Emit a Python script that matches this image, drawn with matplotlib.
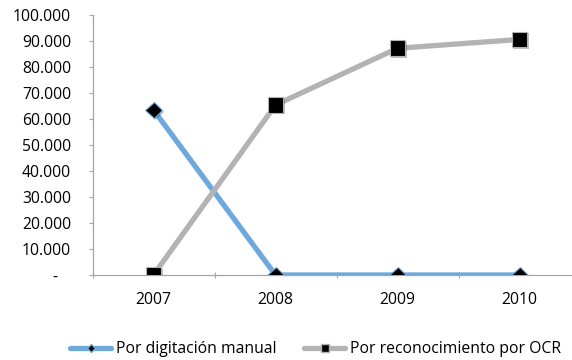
import matplotlib.pyplot as plt
import matplotlib.patheffects as pe
from matplotlib.ticker import FixedLocator

plt.rcParams['font.family'] = ['Open Sans', 'DejaVu Sans']

years = ['2007', '2008', '2009', '2010']
manual = [63500, 0, 0, 0]
ocr = [0, 65400, 87200, 90600]
yticks = [0, 10000, 20000, 30000, 40000, 50000, 60000, 70000, 80000, 90000, 100000]
ylabels = ['-   ', '10.000', '20.000', '30.000', '40.000', '50.000',
           '60.000', '70.000', '80.000', '90.000', '100.000']

blue = '#6fa8dc'
grey = '#b3b3b3'
axis_col = '#a6a6a6'
fs = 11.3

fig = plt.figure(figsize=(5.72, 3.6), dpi=100)
ax = fig.add_axes([92.5 / 572, 85 / 360, 488 / 572, 260 / 360])

x = list(range(len(years)))
shadow = [pe.SimplePatchShadow(offset=(1.2, -1.2), shadow_rgbFace='#000000', alpha=0.25), pe.Normal()]

ax.plot(x, manual, color=blue, lw=3.8, solid_capstyle='round', zorder=2)
ax.plot(x, ocr, color=grey, lw=3.8, solid_capstyle='round', zorder=2)
ax.plot(x, manual, ls='none', marker='D', ms=8.5, mfc='black', mec=blue, mew=0.8,
        zorder=3, path_effects=shadow)
ax.plot(x, ocr, ls='none', marker='s', ms=11.3, mfc='black', mec=grey, mew=0.8,
        zorder=3, path_effects=shadow)

ax.set_xlim(-0.5, len(years) - 0.5)
ax.set_ylim(0, 100000)
ax.set_yticks(yticks)
ax.set_yticklabels(ylabels)
ax.set_xticks(x)
ax.set_xticklabels(years)
ax.xaxis.set_minor_locator(FixedLocator([i - 0.5 for i in range(len(years) + 1)]))

ax.tick_params(axis='y', length=3, width=0.8, color=axis_col, pad=12.5, labelsize=fs)
ax.tick_params(axis='x', which='major', length=0, pad=12, labelsize=fs)
ax.tick_params(axis='x', which='minor', length=4, width=0.8, color=axis_col, direction='inout')

for side in ['top', 'right']:
    ax.spines[side].set_visible(False)
for side in ['left', 'bottom']:
    ax.spines[side].set_color(axis_col)
    ax.spines[side].set_linewidth(0.9)
ax.spines['bottom'].set_zorder(1)

h1, = ax.plot([], [], color=blue, lw=3.8, marker='D', ms=4.5, mfc='black', mec=blue, solid_capstyle='round')
h2, = ax.plot([], [], color=grey, lw=3.8, marker='s', ms=6, mfc='black', mec=grey, solid_capstyle='round')
fig.legend([h1, h2], ['Por digitación manual', 'Por reconocimiento por OCR'],
           loc='center', bbox_to_anchor=(315.5 / 572, 1 - 349 / 360), ncol=2, frameon=False,
           fontsize=fs, handlelength=2.6, handletextpad=0.3, columnspacing=1.8,
           borderpad=0, borderaxespad=0)

fig.savefig('out.png', dpi=100)
